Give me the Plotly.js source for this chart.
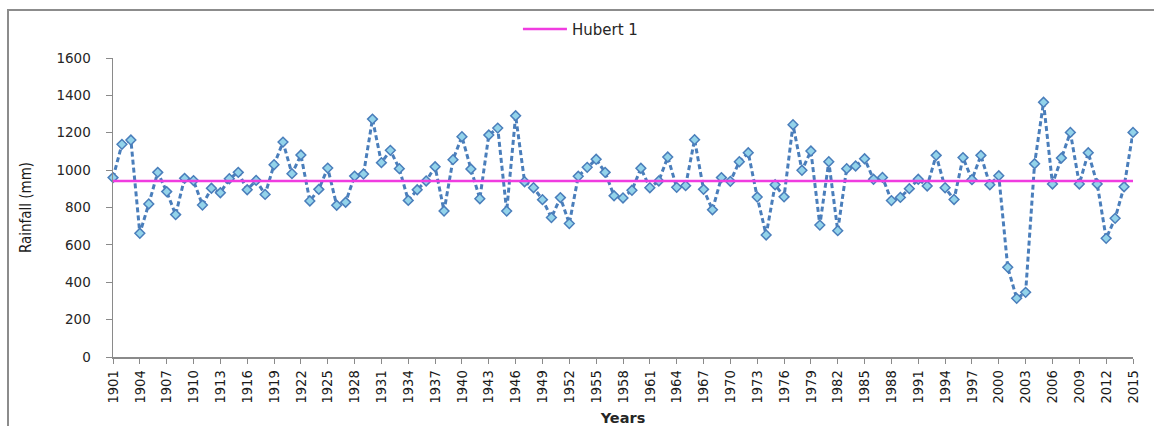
<!DOCTYPE html>
<html>
<head>
<meta charset="utf-8">
<script src="https://cdn.plot.ly/plotly-3.0.1.min.js"></script>
<style>
  html, body { margin: 0; padding: 0; background: #ffffff; }
  #wrap { position: relative; width: 1154px; height: 426px; overflow: hidden; }
  #chart { position: absolute; left: 0; top: 0; width: 1154px; height: 426px; }
  #frame {
    position: absolute; left: 7px; top: 9px; width: 1200px; height: 500px;
    border-top: 2px solid #8c8c8c; border-left: 2px solid #8c8c8c;
    pointer-events: none; z-index: 5;
  }
</style>
</head>
<body>
<div id="wrap">
  <div id="chart"></div>
  <div id="frame"></div>
</div>
<script>
// Annual rainfall (mm), 1901-2015
const years = [];
for (let y = 1901; y <= 2015; y++) years.push(y);

const rainfall = [
  960, 1138, 1161, 662, 819, 988, 885, 762, 956, 944,
  813, 903, 879, 954, 988, 895, 945, 870, 1029, 1150,
  981, 1081, 835, 897, 1011, 812, 828, 968, 979, 1273,
  1040, 1106, 1008, 838, 895, 942, 1018, 781, 1056, 1179,
  1006, 847, 1188, 1225, 781, 1291, 938, 906, 842, 746,
  853, 714, 967, 1015, 1058, 988, 863, 851, 892, 1010,
  906, 942, 1070, 908, 917, 1163, 897, 788, 960, 940,
  1045, 1093, 856, 653, 922, 857, 1243, 999, 1102, 706,
  1045, 676, 1008, 1022, 1061, 951, 961, 837, 854, 901,
  951, 915, 1079, 906, 843, 1067, 949, 1079, 922, 970,
  480, 314, 346, 1034, 1363, 926, 1065, 1202, 926, 1093,
  926, 635, 742, 911, 1202
];

// Hubert segmentation mean over the whole period
const hubertMean = 942;
const hubertYears = [1901, 2015];
const hubertValues = [hubertMean, hubertMean];

const yTicks = [0, 200, 400, 600, 800, 1000, 1200, 1400, 1600];

const traces = [
  {
    x: years,
    y: rainfall,
    type: 'scatter',
    mode: 'lines+markers',
    name: 'Rainfall',
    showlegend: false,
    cliponaxis: false,
    line: { color: '#4a7ebb', width: 3, dash: '5px,3px' },
    marker: {
      symbol: 'diamond',
      size: 7.5,
      color: '#93d3ea',
      line: { color: '#4a7ebb', width: 1.5 }
    }
  },
  {
    x: hubertYears,
    y: hubertValues,
    type: 'scatter',
    mode: 'lines',
    name: 'Hubert 1',
    cliponaxis: false,
    line: { color: '#f03ce0', width: 2.5 }
  }
];

const layout = {
  width: 1154,
  height: 426,
  paper_bgcolor: '#ffffff',
  plot_bgcolor: '#ffffff',
  margin: { l: 113, r: 21, t: 58, b: 69, pad: 0 },
  showlegend: true,
  legend: {
    orientation: 'h',
    x: 0.397, xanchor: 'left',
    y: 1.096, yanchor: 'middle',
    itemwidth: 44,
    font: { family: 'DejaVu Sans, Verdana, sans-serif', size: 15, color: '#262626' },
    bgcolor: 'rgba(0,0,0,0)'
  },
  xaxis: {
    range: [1901, 2015],
    tickmode: 'linear',
    tick0: 1901,
    dtick: 3,
    showgrid: false,
    zeroline: false,
    showline: true,
    linecolor: '#8a8a8a',
    linewidth: 1.5,
    ticks: 'outside',
    ticklen: 5,
    tickwidth: 1,
    tickcolor: '#8a8a8a',
    tickangle: -90,
    ticklabelstandoff: 1,
    tickfont: { family: 'Liberation Sans Narrow, DejaVu Sans Condensed, Arial Narrow, sans-serif', size: 14.5, color: '#1a1a1a' },
    title: {
      text: '<b>Years</b>',
      font: { family: 'DejaVu Sans, Verdana, sans-serif', size: 14.5, color: '#262626' },
      standoff: 14
    }
  },
  yaxis: {
    range: [0, 1600],
    tickmode: 'array',
    tickvals: yTicks,
    ticktext: yTicks.map(String),
    showgrid: false,
    zeroline: false,
    showline: true,
    linecolor: '#8a8a8a',
    linewidth: 1.5,
    ticks: 'outside',
    ticklen: 6,
    tickwidth: 1,
    tickcolor: '#8a8a8a',
    ticklabelstandoff: 12,
    tickfont: { family: 'DejaVu Sans, Verdana, sans-serif', size: 13.5, color: '#262626' },
    title: {
      text: 'Rainfall (mm)',
      font: { family: 'Liberation Sans Narrow, DejaVu Sans Condensed, Arial Narrow, sans-serif', size: 15, color: '#1a1a1a' },
      standoff: 21
    }
  }
};

Plotly.newPlot('chart', traces, layout, { staticPlot: true, displayModeBar: false });
</script>
</body>
</html>
